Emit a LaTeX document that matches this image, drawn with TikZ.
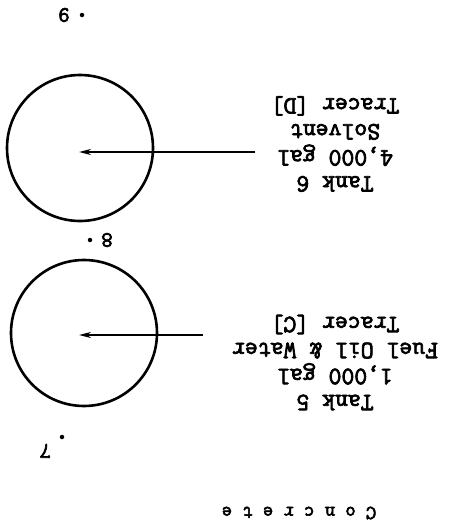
\documentclass[tikz,border=0pt]{standalone}
\usepackage{fontspec}
\newfontfamily\tw[FakeBold=3]{Latin Modern Mono}
\usetikzlibrary{arrows.meta}
\begin{document}
\begin{tikzpicture}[x=1pt,y=-1pt,
  tank/.style={draw,circle,line width=2.6pt,minimum size=146pt,inner sep=0pt},
  feed/.style={line width=1.8pt,-{Stealth[length=12pt,width=6pt]}},
  lbl/.style={rotate=180,align=center,font=\tw\fontsize{25}{26}\selectfont,inner sep=0pt},
  num/.style={rotate=180,font=\tw\fontsize{22}{24}\selectfont,inner sep=0pt},
  pt/.style={fill,circle,minimum size=4.5pt,inner sep=0pt}]
\useasboundingbox (0,0) rectangle (455,530);
% Tank 6
\node[tank] (t6) at (80,148) {};
\node[lbl] (l6) at (335,144) {Tank 6\\4,000 gal\\Solvent\\Tracer [D]};
\coordinate (s6) at (255,152);
\coordinate (e6) at (79,152);
\draw[feed] (s6) -- (e6);
% Tank 5
\node[tank] (t5) at (84,333) {};
\node[lbl] (l5) at (335,362.5) {Tank 5\\1,000 gal\\Fuel Oil \& Water\\Tracer [C]};
\coordinate (s5) at (203,335);
\coordinate (e5) at (79,335);
\draw[feed] (s5) -- (e5);
% points
\node[num] (n9) at (64,15) {9};
\node[pt] (p9) at (82,15) {};
\node[num] (n8) at (107,240) {8};
\node[pt] (p8) at (90,240) {};
\node[num] (n7) at (45,451) {7};
\node[pt] (p7) at (62,437) {};
% Concrete
\node[rotate=180,font=\tw\fontsize{20}{22}\selectfont,inner sep=0pt] (conc) at (299,513) {C o n c r e t e};
\end{tikzpicture}
\end{document}
